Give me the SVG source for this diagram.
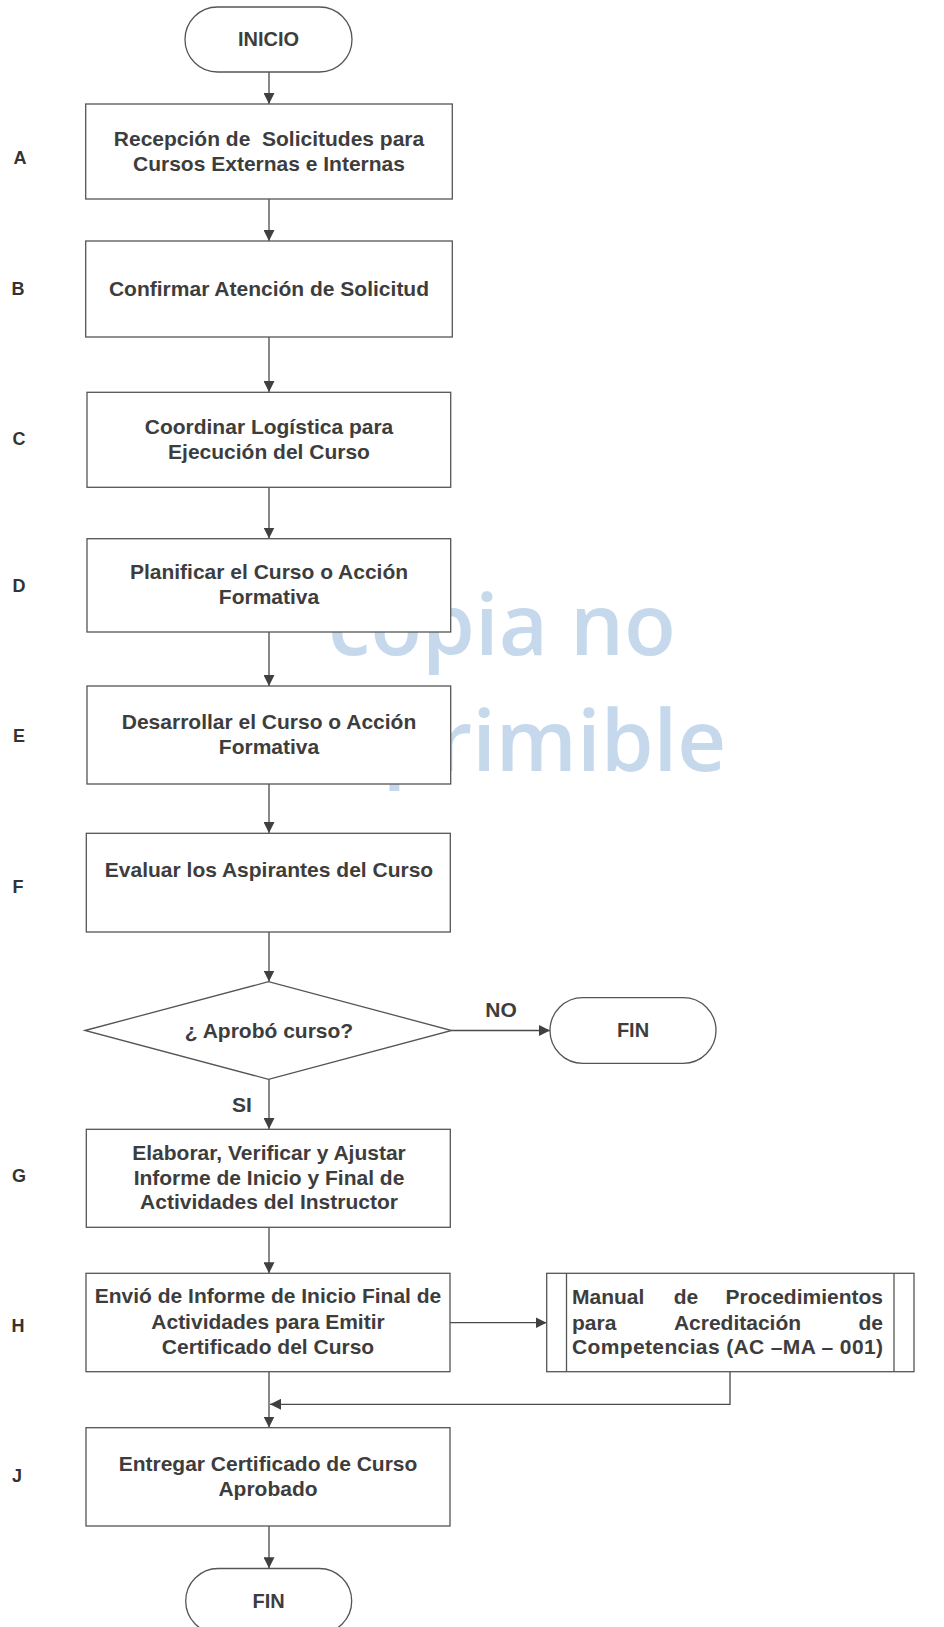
<svg xmlns="http://www.w3.org/2000/svg" width="944" height="1627" viewBox="0 0 944 1627">
<style>
.bx{fill:#fff;stroke:#555;stroke-width:1.3}
.t{font-family:"Liberation Sans",Arial,sans-serif;font-weight:bold;font-size:21px;fill:#3d3d3d;text-anchor:middle}
.lb{font-family:"Liberation Sans",Arial,sans-serif;font-weight:bold;font-size:18px;fill:#333;text-anchor:middle}
.ln{fill:none;stroke:#4a4a4a;stroke-width:1.3}
.wm{font-family:"Open Sans",sans-serif;font-weight:600;font-size:85px;fill:#c6d9ec;text-anchor:middle}
</style>
<defs>
<marker id="ah" markerUnits="userSpaceOnUse" markerWidth="11" markerHeight="11" refX="10" refY="5" orient="auto" viewBox="0 0 10 10">
<path d="M0,0 L10,5 L0,10 z" fill="#404040"/>
</marker>
</defs>
<rect width="944" height="1627" fill="#fff"/>
<g id="watermark">
<text class="wm" x="502" y="655">copia no</text>
<text class="wm" x="502" y="771">imprimible</text>
</g>
<g id="labels">
<text class="lb" x="20" y="164">A</text>
<text class="lb" x="18" y="295">B</text>
<text class="lb" x="19" y="445">C</text>
<text class="lb" x="19" y="592">D</text>
<text class="lb" x="19" y="742">E</text>
<text class="lb" x="18" y="893">F</text>
<text class="lb" x="19" y="1182">G</text>
<text class="lb" x="18" y="1332">H</text>
<text class="lb" x="17" y="1482">J</text>
</g>
<g id="connectors">
<line class="ln" x1="269" y1="72" x2="269" y2="104" marker-end="url(#ah)"/>
<line class="ln" x1="269" y1="199" x2="269" y2="241" marker-end="url(#ah)"/>
<line class="ln" x1="269" y1="337" x2="269" y2="392" marker-end="url(#ah)"/>
<line class="ln" x1="269" y1="487" x2="269" y2="538.5" marker-end="url(#ah)"/>
<line class="ln" x1="269" y1="632" x2="269" y2="686" marker-end="url(#ah)"/>
<line class="ln" x1="269" y1="784" x2="269" y2="833" marker-end="url(#ah)"/>
<line class="ln" x1="269" y1="932" x2="269" y2="981.5" marker-end="url(#ah)"/>
<line class="ln" x1="269" y1="1079.3" x2="269" y2="1129" marker-end="url(#ah)"/>
<line class="ln" x1="451.7" y1="1030.5" x2="550" y2="1030.5" marker-end="url(#ah)"/>
<line class="ln" x1="269" y1="1227.3" x2="269" y2="1273.3" marker-end="url(#ah)"/>
<line class="ln" x1="450" y1="1322.7" x2="546.5" y2="1322.7" marker-end="url(#ah)"/>
<path class="ln" d="M730,1371.7 V1404.3 H270" marker-end="url(#ah)"/>
<line class="ln" x1="269" y1="1371.7" x2="269" y2="1427.5" marker-end="url(#ah)"/>
<line class="ln" x1="269" y1="1526" x2="269" y2="1568.3" marker-end="url(#ah)"/>
<text class="t" x="501" y="1017">NO</text>
<text class="t" x="242" y="1112">SI</text>
</g>
<g id="inicio">
<rect class="bx" x="185" y="7" width="167" height="65" rx="32.5"/>
<text class="t" x="268.5" y="46" style="font-size:20px">INICIO</text>
</g>
<g id="nodeA">
<rect class="bx" x="85.7" y="104" width="366.6" height="95"/>
<text class="t" x="269" y="145.5" style="white-space:pre">Recepción de  Solicitudes para</text>
<text class="t" x="269" y="170.5">Cursos Externas e Internas</text>
</g>
<g id="nodeB">
<rect class="bx" x="85.7" y="241" width="366.6" height="96"/>
<text class="t" x="269" y="296">Confirmar Atención de Solicitud</text>
</g>
<g id="nodeC">
<rect class="bx" x="87" y="392.3" width="363.7" height="95"/>
<text class="t" x="269" y="434">Coordinar Logística para</text>
<text class="t" x="269" y="459">Ejecución del Curso</text>
</g>
<g id="nodeD">
<rect class="bx" x="87" y="538.7" width="363.7" height="93.3"/>
<text class="t" x="269" y="579.3">Planificar el Curso o Acción</text>
<text class="t" x="269" y="604">Formativa</text>
</g>
<g id="nodeE">
<rect class="bx" x="87" y="686" width="363.7" height="98"/>
<text class="t" x="269" y="729.3">Desarrollar el Curso o Acción</text>
<text class="t" x="269" y="754">Formativa</text>
</g>
<g id="nodeF">
<rect class="bx" x="86.3" y="833.3" width="364" height="98.7"/>
<text class="t" x="269" y="877.3">Evaluar los Aspirantes del Curso</text>
</g>
<g id="decision">
<polygon class="bx" points="85,1030.5 268.5,981.7 451.7,1030.5 268.5,1079.3"/>
<text class="t" x="269" y="1037.7">¿ Aprobó curso?</text>
</g>
<g id="finNo">
<rect class="bx" x="550" y="997.7" width="166" height="65.6" rx="32.8"/>
<text class="t" x="633" y="1037.3" style="font-size:20px">FIN</text>
</g>
<g id="nodeG">
<rect class="bx" x="86.3" y="1129.3" width="364" height="98"/>
<text class="t" x="269" y="1160">Elaborar, Verificar y Ajustar</text>
<text class="t" x="269" y="1185">Informe de Inicio y Final de</text>
<text class="t" x="269" y="1209.3">Actividades del Instructor</text>
</g>
<g id="nodeH">
<rect class="bx" x="86" y="1273.3" width="364" height="98.4"/>
<text class="t" x="268" y="1303.3">Envió de Informe de Inicio Final de</text>
<text class="t" x="268" y="1329">Actividades para Emitir</text>
<text class="t" x="268" y="1354">Certificado del Curso</text>
</g>
<g id="manual">
<rect class="bx" x="546.7" y="1273.3" width="367.3" height="98.4"/>
<line class="bx" x1="566.5" y1="1273.3" x2="566.5" y2="1371.7"/>
<line class="bx" x1="894" y1="1273.3" x2="894" y2="1371.7"/>
<text class="t" x="572" y="1304" style="text-anchor:start">Manual</text>
<text class="t" x="686" y="1304">de</text>
<text class="t" x="883" y="1304" style="text-anchor:end">Procedimientos</text>
<text class="t" x="572" y="1329.5" style="text-anchor:start">para</text>
<text class="t" x="737.5" y="1329.5">Acreditación</text>
<text class="t" x="883" y="1329.5" style="text-anchor:end">de</text>
<text class="t" x="572" y="1354" style="text-anchor:start" textLength="311">Competencias (AC –MA – 001)</text>
</g>
<g id="nodeJ">
<rect class="bx" x="86" y="1427.7" width="364" height="98.3"/>
<text class="t" x="268" y="1471">Entregar Certificado de Curso</text>
<text class="t" x="268" y="1495.7">Aprobado</text>
</g>
<g id="finEnd">
<rect class="bx" x="185.7" y="1568.5" width="166" height="65" rx="32.5"/>
<text class="t" x="268.7" y="1608.3" style="font-size:20px">FIN</text>
</g>
</svg>
